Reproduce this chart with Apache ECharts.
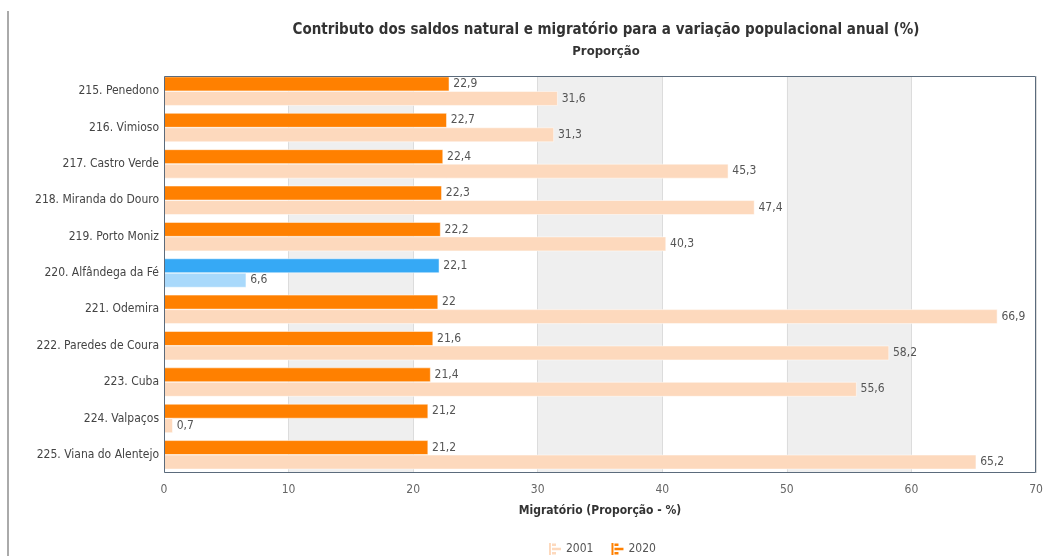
<!DOCTYPE html>
<html>
<head>
<meta charset="utf-8">
<script src="https://cdn.jsdelivr.net/npm/echarts@6/dist/echarts.min.js"></script>
<style>
  html, body { margin: 0; padding: 0; background: #fff; }
  #chart { width: 1046px; height: 556px; }
</style>
</head>
<body>
<div id="chart"></div>
<script>
// municipalities, ranked
const categories = [
    '215. Penedono', '216. Vimioso', '217. Castro Verde', '218. Miranda do Douro',
    '219. Porto Moniz', '220. Alfândega da Fé', '221. Odemira', '222. Paredes de Coura',
    '223. Cuba', '224. Valpaços', '225. Viana do Alentejo'
];
const values2020 = [22.9, 22.7, 22.4, 22.3, 22.2, 22.1, 22, 21.6, 21.4, 21.2, 21.2];
const values2001 = [31.6, 31.3, 45.3, 47.4, 40.3, 6.6, 66.9, 58.2, 55.6, 0.7, 65.2];
const highlightIndex = 5;
const xTicks = [0, 10, 20, 30, 40, 50, 60, 70];

const FONT = "'DejaVu Sans Condensed', 'DejaVu Sans', sans-serif";
const barIcon = 'path://M0,0H2V12H0Z M3,0.5H7V3H3Z M3,4.8H12V7.2H3Z M3,9H7V11.5H3Z';

function toBars(values, hiColor) {
    return values.map((v, i) => i === highlightIndex
        ? { value: v, itemStyle: { color: hiColor } }
        : v);
}

const chart = echarts.init(document.getElementById('chart'));

const labelOpt = {
    show: true,
    position: 'right',
    distance: 4,
    color: '#555',
    fontFamily: FONT,
    fontSize: 12,
    formatter: p => String(p.value).replace('.', ',')
};

chart.setOption({
    animation: false,
    textStyle: { fontFamily: FONT },
    title: {
        text: 'Contributo dos saldos natural e migratório para a variação populacional anual (%)',
        subtext: 'Proporção',
        left: 601,
        textAlign: 'center',
        top: 18,
        itemGap: 7,
        textStyle: { fontFamily: FONT, fontSize: 15, fontWeight: 'bold', color: '#333' },
        subtextStyle: { fontFamily: FONT, fontSize: 13, fontWeight: 'bold', color: '#333' }
    },
    legend: {
        data: ['2001', '2020'],
        left: 544,
        top: 538,
        itemWidth: 12,
        itemHeight: 12,
        itemGap: 18,
        icon: barIcon,
        itemStyle: { borderWidth: 0 },
        textStyle: { fontFamily: FONT, fontSize: 12, color: '#555' }
    },
    grid: [
        {   // shaded bands
            left: 164, right: 10, top: 76, bottom: 83
        },
        {   // bars
            left: 164, right: 10, top: 73, bottom: 83
        }
    ],
    xAxis: [
        {
            gridIndex: 0,
            type: 'value',
            min: xTicks[0],
            max: xTicks[xTicks.length - 1],
            interval: 10,
            name: 'Migratório (Proporção - %)',
            nameLocation: 'middle',
            nameGap: 32,
            nameTextStyle: { fontFamily: FONT, fontSize: 12, fontWeight: 'bold', color: '#333' },
            axisLine: { show: false },
            axisTick: { show: false },
            axisLabel: { color: '#666', fontFamily: FONT, fontSize: 12, margin: 11 },
            splitLine: { show: true, lineStyle: { color: '#dcdcdc' } },
            splitArea: { show: true, areaStyle: { color: ['#ffffff', '#efefef'] } }
        },
        {
            gridIndex: 1,
            type: 'value',
            min: xTicks[0],
            max: xTicks[xTicks.length - 1],
            interval: 10,
            show: false
        }
    ],
    yAxis: [
        {
            gridIndex: 0,
            type: 'category',
            data: categories,
            show: false
        },
        {
            gridIndex: 1,
            type: 'category',
            data: categories,
            inverse: true,
            axisLine: { show: false },
            axisTick: { show: false },
            axisLabel: { color: '#444', fontFamily: FONT, fontSize: 12, margin: 5 }
        }
    ],
    series: [
        {
            name: '2020',
            type: 'bar',
            xAxisIndex: 1,
            yAxisIndex: 1,
            data: toBars(values2020, '#36a9f5'),
            itemStyle: { color: '#ff8000', borderColor: '#fff', borderWidth: 0.5 },
            barWidth: 14.5,
            barGap: '0%',
            label: labelOpt
        },
        {
            name: '2001',
            type: 'bar',
            xAxisIndex: 1,
            yAxisIndex: 1,
            data: toBars(values2001, '#a9d9fb'),
            itemStyle: { color: '#fdd9bd', borderColor: '#fff', borderWidth: 0.5 },
            barWidth: 14.5,
            barGap: '0%',
            label: labelOpt
        }
    ],
    graphic: [
        {
            type: 'rect',
            shape: { x: 7, y: 11, width: 2, height: 545 },
            style: { fill: '#aaaaaa' }
        },
        {   // plot frame
            type: 'rect',
            z: 100,
            shape: { x: 164.5, y: 76.5, width: 871, height: 396 },
            style: { fill: 'none', stroke: '#5b6b7c', lineWidth: 1 }
        }
    ]
});
</script>
</body>
</html>
